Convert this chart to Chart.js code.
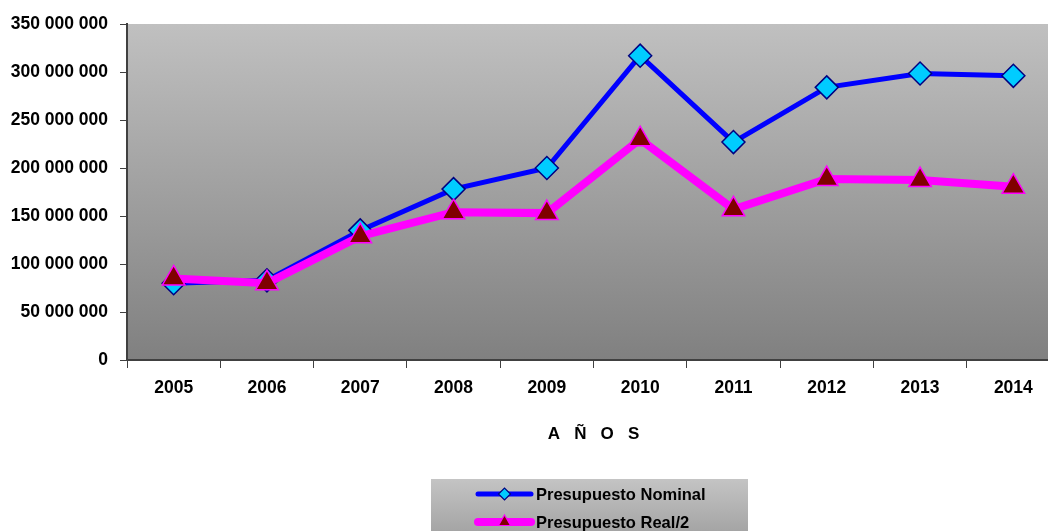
<!DOCTYPE html>
<html>
<head>
<meta charset="utf-8">
<script src="https://cdn.jsdelivr.net/npm/chart.js@4.4.0/dist/chart.umd.min.js"></script>
<style>
  html, body { margin: 0; padding: 0; background: #fff; overflow: hidden; }
  #wrap { width: 1048px; height: 531px; overflow: hidden; position: relative; }
  #budgetChart { display: block; width: 1060px; height: 531px; }
</style>
</head>
<body>
<div id="wrap"><canvas id="budgetChart" width="1060" height="531"></canvas></div>
<script>
// Data
const years = ["2005", "2006", "2007", "2008", "2009", "2010", "2011", "2012", "2013", "2014"];
const nominal = [80000000, 83000000, 135000000, 178000000, 200000000, 317000000, 227000000, 284000000, 298500000, 296000000];
const realHalf = [85000000, 80000000, 129000000, 154000000, 153000000, 230000000, 157000000, 188500000, 187500000, 180500000];
const seriesNames = ["Presupuesto Nominal", "Presupuesto Real/2"];
const axisTitle = "A   Ñ   O   S";
const yMax = 350000000;
const yStep = 50000000;

const FONT = "'Liberation Sans', Arial, sans-serif";

// Group digits with spaces: 350000000 -> "350 000 000"
function spaced(v) {
  return String(v).replace(/\B(?=(\d{3})+(?!\d))/g, " ");
}

// --- PLUGIN: grey gradient behind the plot area ---
const plotBackground = {
  id: "plotBackground",
  beforeDraw(chart) {
    const { ctx, chartArea: a } = chart;
    const g = ctx.createLinearGradient(0, a.top, 0, a.bottom);
    g.addColorStop(0, "#C0C0C0");
    g.addColorStop(1, "#808080");
    ctx.save();
    ctx.fillStyle = g;
    ctx.fillRect(a.left, a.top, a.right - a.left, a.bottom - a.top);
    ctx.restore();
  },
};

// --- PLUGIN: Excel style legend (line + marker) ---
const lineLegend = {
  id: "lineLegend",
  afterDraw(chart) {
    const ctx = chart.ctx;
    const box = { x: 431, y: 479, w: 317, h: 70 };
    ctx.save();
    const g = ctx.createLinearGradient(0, box.y, 0, box.y + box.h);
    g.addColorStop(0, "#C4C4C4");
    g.addColorStop(1, "#9A9A9A");
    ctx.fillStyle = g;
    ctx.fillRect(box.x, box.y, box.w, box.h);

    const rows = [494, 522];
    const markers = [
      { pointStyle: "rectRot", radius: 6, borderWidth: 1.2, rotation: 0 },
      { pointStyle: "triangle", radius: 7, borderWidth: 1.2, rotation: 0 },
    ];
    chart.data.datasets.forEach((ds, i) => {
      const y = rows[i];
      ctx.strokeStyle = ds.borderColor;
      ctx.lineWidth = ds.borderWidth;
      ctx.lineCap = "round";
      ctx.beginPath();
      ctx.moveTo(478, y);
      ctx.lineTo(531, y);
      ctx.stroke();

      ctx.fillStyle = ds.pointBackgroundColor;
      ctx.strokeStyle = ds.pointBorderColor;
      ctx.lineWidth = markers[i].borderWidth;
      Chart.helpers.drawPoint(ctx, markers[i], 504.5, y);

      ctx.fillStyle = "#000";
      ctx.font = "bold 16.5px " + FONT;
      ctx.textBaseline = "middle";
      ctx.textAlign = "left";
      ctx.fillText(ds.label, 536, y + 1);
    });
    ctx.restore();
  },
};

const ctx = document.getElementById("budgetChart").getContext("2d");
new Chart(ctx, {
  type: "line",
  data: {
    labels: years,
    datasets: [
      {
        label: seriesNames[0],
        data: nominal,
        borderColor: "#0000FF",
        borderWidth: 5,
        pointStyle: "rectRot",
        pointRadius: 11.5,
        pointBackgroundColor: "#00CCFF",
        pointBorderColor: "#000080",
        pointBorderWidth: 1.5,
        tension: 0,
        order: 2,
      },
      {
        label: seriesNames[1],
        data: realHalf,
        borderColor: "#FF00FF",
        borderWidth: 8,
        pointStyle: "triangle",
        pointRadius: 13,
        pointBackgroundColor: "#800000",
        pointBorderColor: "#FF00FF",
        pointBorderWidth: 1.5,
        tension: 0,
        order: 1,
      },
    ],
  },
  options: {
    responsive: false,
    maintainAspectRatio: false,
    animation: false,
    layout: { autoPadding: false, padding: { top: 24, left: 0, right: 0, bottom: 0 } },
    plugins: {
      legend: { display: false },
      tooltip: { enabled: false },
    },
    scales: {
      x: {
        offset: true,
        grid: {
          offset: true,
          drawOnChartArea: false,
          drawTicks: true,
          tickLength: 8,
          color: "#404040",
          lineWidth: 1,
        },
        border: { display: true, color: "#404040", width: 2 },
        ticks: {
          color: "#000",
          padding: 10,
          font: { family: FONT, size: 17.5, weight: "bold" },
        },
        title: {
          display: true,
          text: axisTitle,
          color: "#000",
          padding: { top: 0, bottom: 86 },
          font: { family: FONT, size: 17, weight: "bold" },
        },
        afterFit(scale) {
          scale.height = 171;
        },
      },
      y: {
        min: 0,
        max: yMax,
        grid: {
          drawOnChartArea: false,
          drawTicks: true,
          tickLength: 7,
          color: "#404040",
        },
        border: { display: true, color: "#404040", width: 2 },
        ticks: {
          stepSize: yStep,
          color: "#000",
          padding: 12,
          font: { family: FONT, size: 17.5, weight: "bold" },
          callback: (v) => spaced(v),
        },
        afterFit(scale) {
          scale.width = 127;
        },
      },
    },
  },
  plugins: [plotBackground, lineLegend],
});
</script>
</body>
</html>
